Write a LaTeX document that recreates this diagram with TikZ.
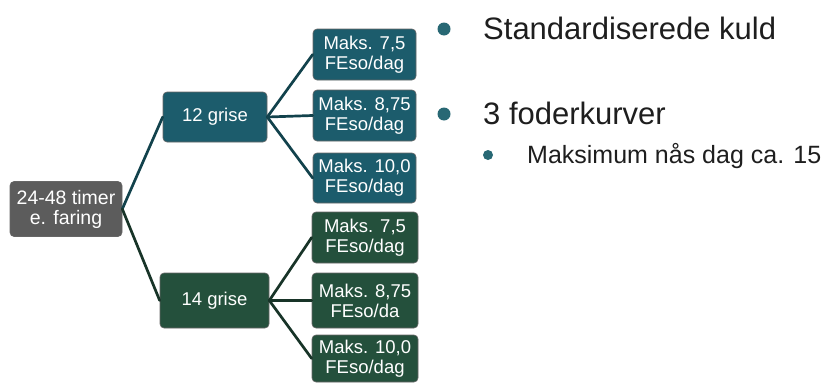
\documentclass[tikz,border=0pt]{standalone}
\usepackage{fontspec}
\setmainfont{Liberation Sans}
\definecolor{tealbox}{RGB}{28,92,108}
\definecolor{tealline}{RGB}{18,66,76}
\definecolor{greenbox}{RGB}{36,80,60}
\definecolor{greenline}{RGB}{24,52,40}
\definecolor{graybox}{RGB}{92,92,92}
\definecolor{bullet}{RGB}{40,104,116}
\definecolor{txt}{RGB}{30,30,30}
\begin{document}
\begin{tikzpicture}[x=1pt,y=-1pt,
  box/.style={rounded corners=4pt, draw=black!60, line width=0.6pt, text=white, align=center, inner sep=0pt,
    font=\fontsize{18.5}{20}\selectfont},
  tline/.style={draw=tealline, line width=2.7pt, line cap=round},
  gline/.style={draw=greenline, line width=2.7pt, line cap=round},
  bigtext/.style={text=txt, anchor=base west, inner sep=0pt, font=\fontsize{31}{36}\selectfont},
  smalltext/.style={text=txt, anchor=base west, inner sep=0pt, font=\fontsize{25}{30}\selectfont}]
\useasboundingbox (0,0) rectangle (837,383);
% boxes
\node[box, fill=graybox, minimum width=112pt, minimum height=55pt, font=\fontsize{19.5}{20}\selectfont] (root) at (66,209) {24-48 timer\\e. faring};
\node[box, fill=tealbox, minimum width=104pt, minimum height=50pt] (g12) at (215,117) {12 grise};
\node[box, fill=greenbox, minimum width=109pt, minimum height=55pt] (g14) at (214.5,300.5) {14 grise};
\node[box, fill=tealbox, minimum width=103pt, minimum height=51pt] (a1) at (364.5,54.5) {Maks. 7,5\\FEso/dag};
\node[box, fill=tealbox, minimum width=103pt, minimum height=51pt] (a2) at (364.5,115.5) {Maks. 8,75\\FEso/dag};
\node[box, fill=tealbox, minimum width=103pt, minimum height=50pt] (a3) at (364.5,178) {Maks. 10,0\\FEso/dag};
\node[box, fill=greenbox, minimum width=106pt, minimum height=51pt] (b1) at (365,237.5) {Maks. 7,5\\FEso/dag};
\node[box, fill=greenbox, minimum width=106pt, minimum height=55pt] (b2) at (365,300.5) {Maks. 8,75\\FEso/da};
\node[box, fill=greenbox, minimum width=106pt, minimum height=47pt] (b3) at (365,358.5) {Maks. 10,0\\FEso/dag};
% connectors
\draw[tline] (root.east) -- (g12.west);
\draw[gline] (root.east) -- (g14.west);
\draw[tline] (g12.east) -- (a1.west);
\draw[tline] (g12.east) -- (a2.west);
\draw[tline] (g12.east) -- (a3.west);
\draw[gline] (g14.east) -- (b1.west);
\draw[gline] (g14.east) -- (b2.west);
\draw[gline] (g14.east) -- (b3.west);
% bullet text
\fill[bullet] (444,29) circle (6.5pt);
\node[bigtext] (t1) at (483,39) {Standardiserede kuld};
\fill[bullet] (444,114) circle (6.5pt);
\node[bigtext] (t2) at (483,124) {3 foderkurver};
\fill[bullet] (488,155) circle (5pt);
\node[smalltext] (t3) at (527,163) {Maksimum nås dag ca. 15};
\end{tikzpicture}
\end{document}
